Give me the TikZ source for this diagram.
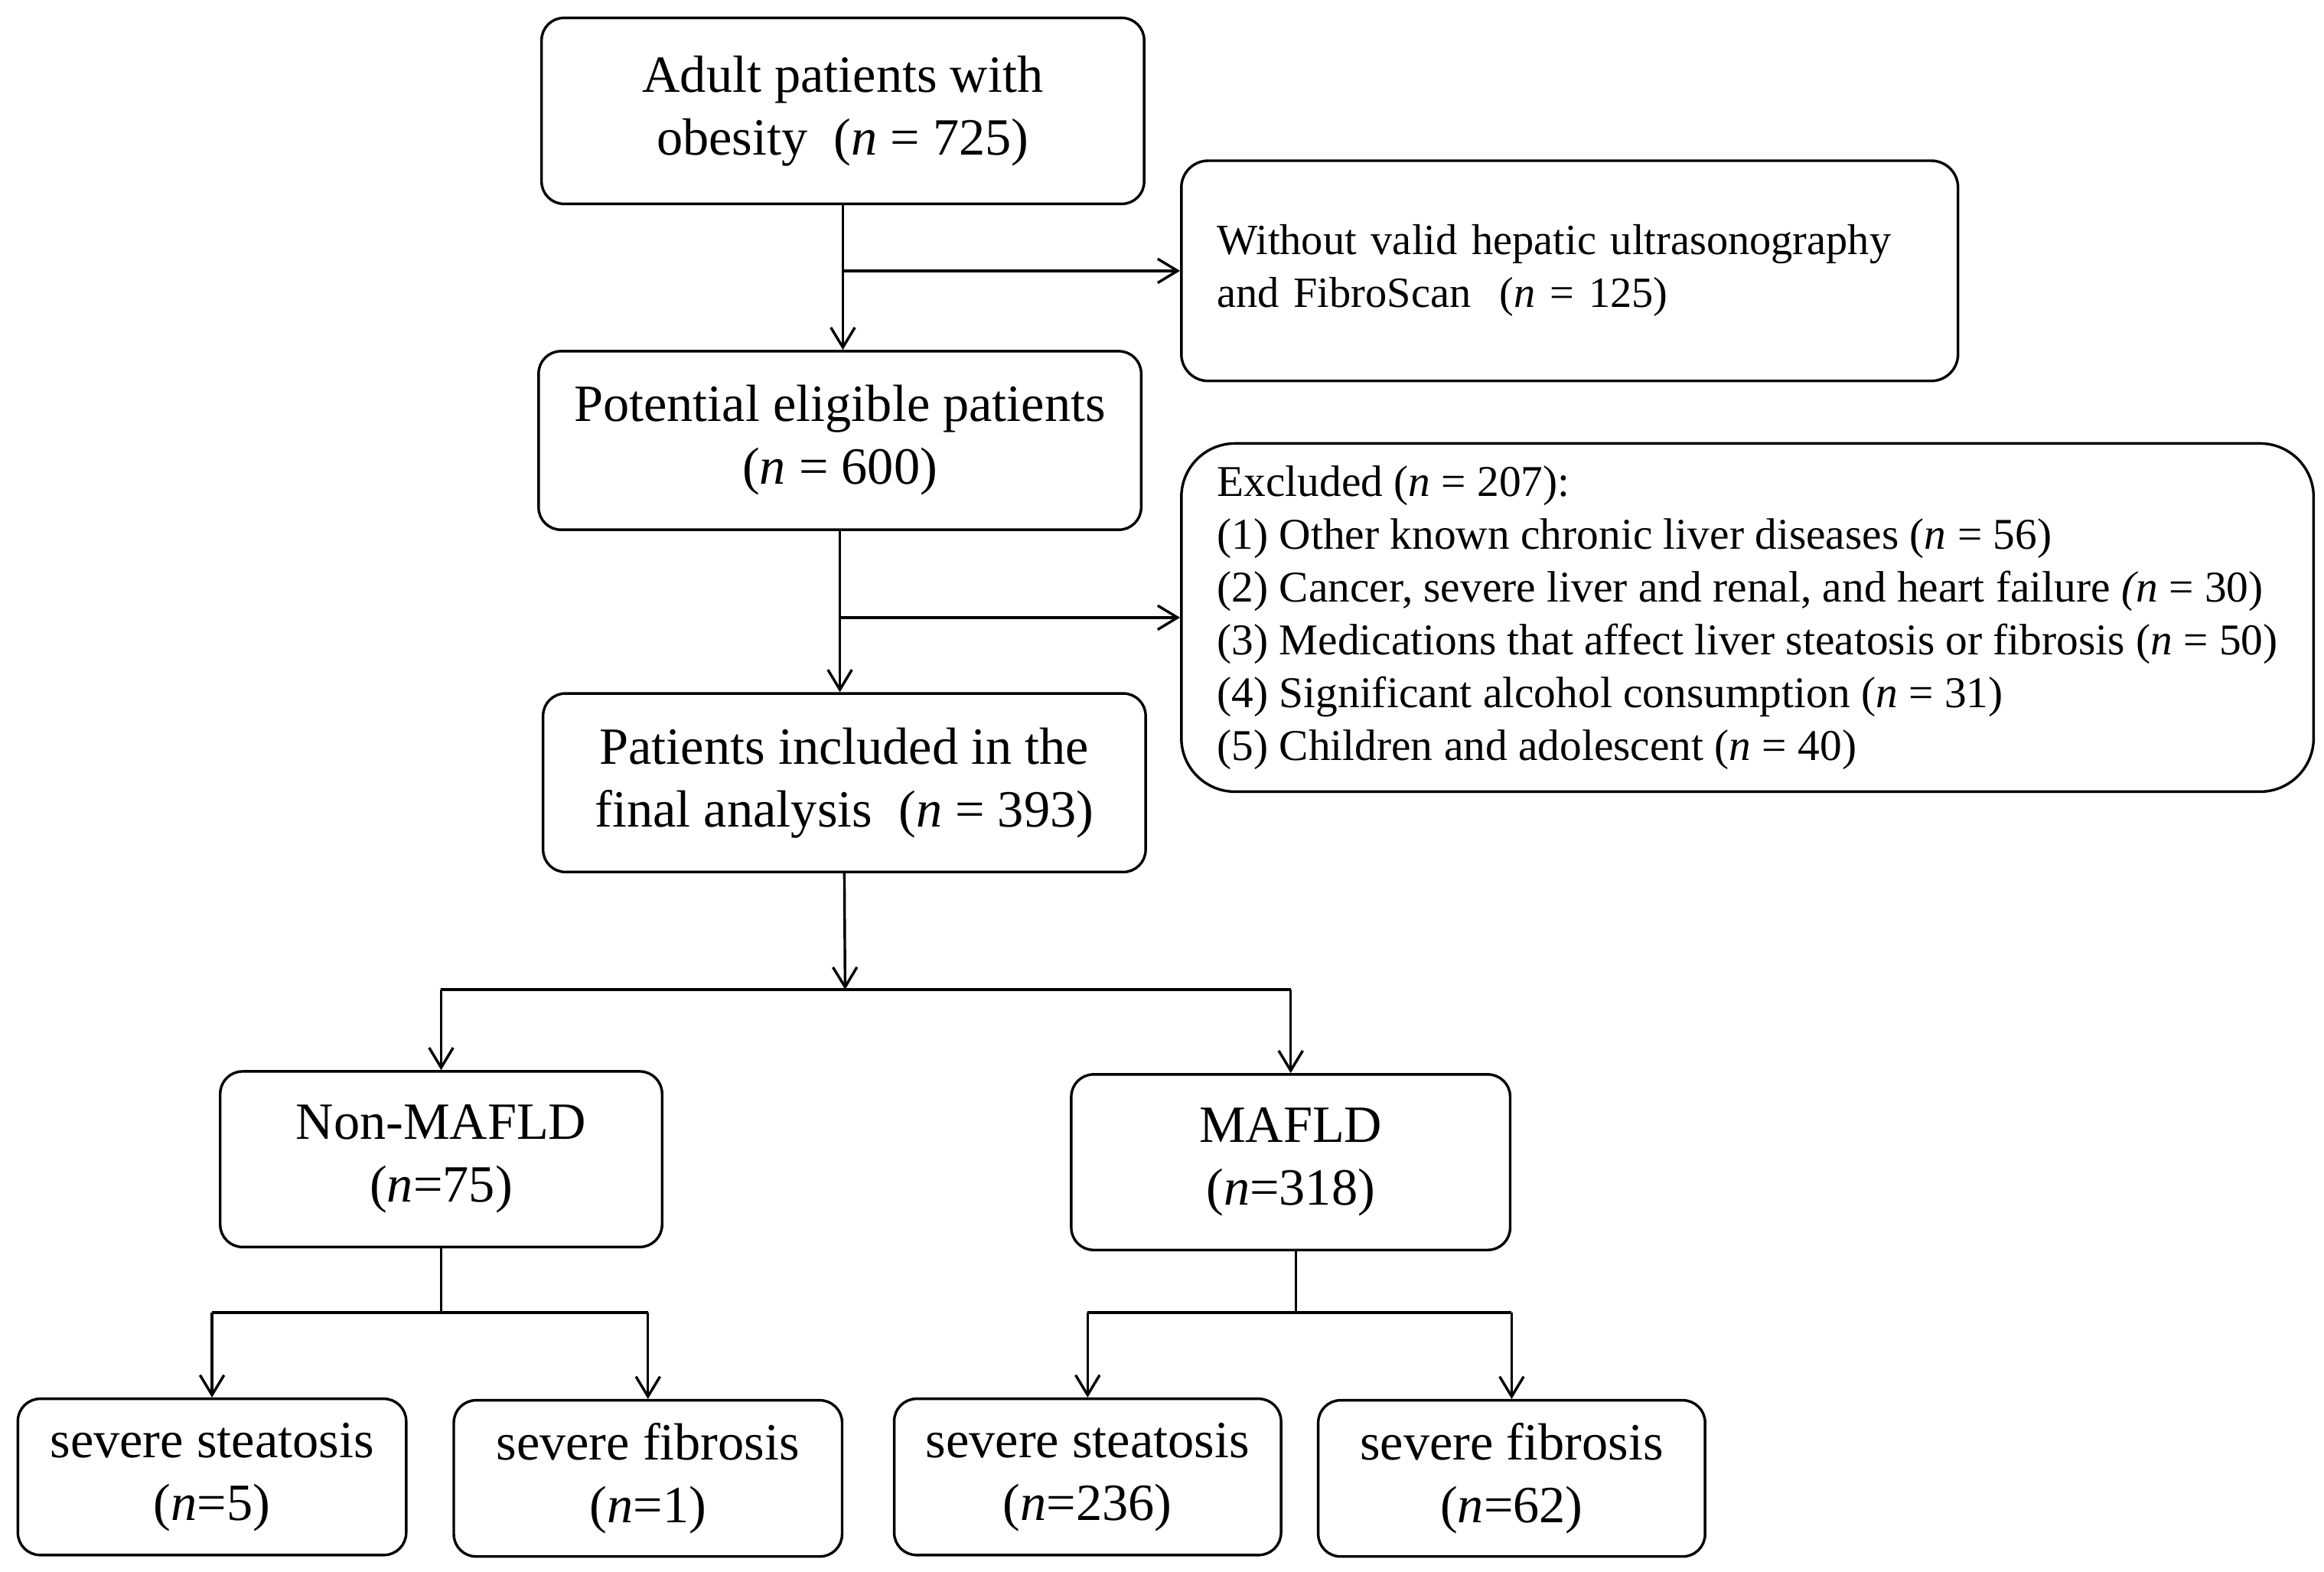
\documentclass[tikz,border=0pt]{standalone}
\usepackage{fontspec}
\setmainfont{Liberation Serif}
\usepackage{tikz}
\usetikzlibrary{arrows.meta, positioning, calc}

\begin{document}
\begin{tikzpicture}[
    box/.style={draw, line width=0.5pt, rounded corners=1.5mm, align=center, inner sep=0pt,
      font=\fontsize{10}{12}\selectfont},
    sidebox/.style={draw, line width=0.5pt, align=left, inner ysep=0pt,
      font=\fontsize{8.25}{10.1}\selectfont},
    arr/.style={line width=0.5pt, -{Straight Barb[length=3.8pt, width=4.6pt]}},
    link/.style={line width=0.5pt}
  ]
  \useasboundingbox (0,0) rectangle (15.62,-10.56);

  % Main column
  \node[box, minimum width=4.05cm, minimum height=1.25cm] (adult) at (5.665,-0.745)
    {Adult patients with\\obesity\ \ (\textit{n} = 725)};
  \node[box, minimum width=4.05cm, minimum height=1.2cm] (eligible) at (5.645,-2.96)
    {Potential eligible patients\\(\textit{n} = 600)};
  \node[box, minimum width=4.05cm, minimum height=1.2cm] (final) at (5.675,-5.26)
    {Patients included in the\\final analysis\ \ (\textit{n} = 393)};

  % Exclusion boxes
  \node[sidebox, rounded corners=1.8mm, text width=4.74cm, inner xsep=0.24cm,
    minimum height=1.48cm] (novalid) at (10.55,-1.82)
    {Without valid hepatic ultrasonography\\and FibroScan\ \ (\textit{n} = 125)};
  \node[sidebox, font=\fontsize{8.4}{10.1}\selectfont, rounded corners=3.6mm,
    inner xsep=0.2cm, minimum width=7.61cm, minimum height=2.34cm] (excluded) at (11.745,-4.15)
    {Excluded (\textit{n} = 207):\\
     (1) Other known chronic liver diseases (\textit{n} = 56)\\
     (2) Cancer, severe liver and renal, and heart failure \textit{(n} = 30)\\
     (3) Medications that affect liver steatosis or fibrosis (\textit{n} = 50)\\
     (4) Significant alcohol consumption (\textit{n} = 31)\\
     (5) Children and adolescent (\textit{n} = 40)};

  % Groups
  \node[box, minimum width=2.97cm, minimum height=1.18cm] (nonmafld) at (2.965,-7.79)
    {Non-MAFLD\\(\textit{n}=75)};
  \node[box, minimum width=2.95cm, minimum height=1.18cm] (mafld) at (8.675,-7.81)
    {MAFLD\\(\textit{n}=318)};

  % Outcomes
  \node[box, minimum width=2.61cm, minimum height=1.05cm] (nonste) at (1.425,-9.925)
    {severe steatosis\\(\textit{n}=5)};
  \node[box, minimum width=2.61cm, minimum height=1.05cm] (nonfib) at (4.355,-9.935)
    {severe fibrosis\\(\textit{n}=1)};
  \node[box, minimum width=2.6cm, minimum height=1.05cm] (maste) at (7.31,-9.925)
    {severe steatosis\\(\textit{n}=236)};
  \node[box, minimum width=2.6cm, minimum height=1.05cm] (mafib) at (10.16,-9.935)
    {severe fibrosis\\(\textit{n}=62)};

  % Connectors
  \draw[arr] (adult.south) -- (adult.south |- eligible.north);
  \draw[arr] (adult.south |- novalid.west) -- (novalid.west);
  \draw[arr] (eligible.south) -- (eligible.south |- final.north);
  \draw[arr] (eligible.south |- excluded.west) -- (excluded.west);

  \coordinate (split) at (5.68,-6.65);
  \draw[arr] (final.south) -- (split);
  \draw[link] (nonmafld.north |- split) -- (mafld.north |- split);
  \draw[arr] (nonmafld.north |- split) -- (nonmafld.north);
  \draw[arr] (mafld.north |- split) -- (mafld.north);

  \coordinate (nonsplit) at (2.965,-8.82);
  \coordinate (masplit) at (8.71,-8.82);
  \draw[link] (nonmafld.south) -- (nonsplit);
  \draw[link] (masplit |- mafld.south) -- (masplit);
  \draw[link] (nonste.north |- nonsplit) -- (nonfib.north |- nonsplit);
  \draw[link] (maste.north |- masplit) -- (mafib.north |- masplit);
  \draw[arr] (nonste.north |- nonsplit) -- (nonste.north);
  \draw[arr] (nonfib.north |- nonsplit) -- (nonfib.north);
  \draw[arr] (maste.north |- masplit) -- (maste.north);
  \draw[arr] (mafib.north |- masplit) -- (mafib.north);
\end{tikzpicture}
\end{document}
